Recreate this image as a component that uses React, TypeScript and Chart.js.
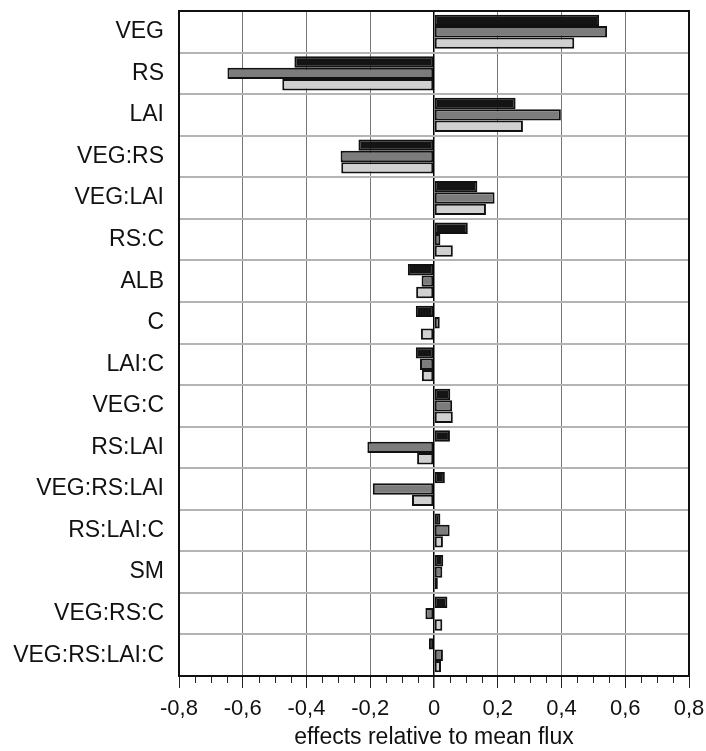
import React, { useEffect, useRef } from "react";
import { Chart, registerables } from "chart.js";

Chart.register(...registerables);

const categories = [
  "VEG", "RS", "LAI", "VEG:RS", "VEG:LAI", "RS:C", "ALB", "C", "LAI:C",
  "VEG:C", "RS:LAI", "VEG:RS:LAI", "RS:LAI:C", "SM", "VEG:RS:C", "VEG:RS:LAI:C",
];
const seriesBlack = [0.518, -0.438, 0.256, -0.237, 0.136, 0.106, -0.082, -0.057, -0.057, 0.051, 0.05, 0.034, 0.02, 0.029, 0.042, -0.016];
const seriesDark = [0.543, -0.648, 0.398, -0.293, 0.19, 0.02, -0.039, 0.018, -0.044, 0.057, -0.209, -0.192, 0.049, 0.026, -0.027, 0.028];
const seriesLight = [0.44, -0.476, 0.279, -0.291, 0.163, 0.059, -0.056, -0.041, -0.038, 0.059, -0.053, -0.069, 0.028, 0.012, 0.026, 0.022];
const xMin = -0.8;
const xMax = 0.8;
const xStep = 0.05;
const xTitle = "effects relative to mean flux";

const FONT = '"Liberation Sans", Arial, sans-serif';

const isMajor = (v: number) => Math.round(v * 100) % 20 === 0;

const framePlugin = {
  id: "frameAndMinor",
  afterDraw(chart: any) {
    const { ctx, chartArea } = chart;
    const xs = chart.scales.x;
    ctx.save();
    ctx.strokeStyle = "#222";
    ctx.lineWidth = 1;
    xs.ticks.forEach((t: any, i: number) => {
      if (isMajor(t.value)) return;
      const px = Math.round(xs.getPixelForTick(i)) + 0.5;
      ctx.beginPath();
      ctx.moveTo(px, chartArea.bottom);
      ctx.lineTo(px, chartArea.bottom + 7);
      ctx.stroke();
    });
    ctx.strokeStyle = "#111";
    ctx.lineWidth = 2;
    ctx.strokeRect(chartArea.left, chartArea.top, chartArea.right - chartArea.left, chartArea.bottom - chartArea.top);
    ctx.restore();
  },
};

export default function App() {
  const ref = useRef<HTMLCanvasElement | null>(null);
  useEffect(() => {
    if (!ref.current) return;
    const mk = (data: number[], color: string) => ({
      data,
      backgroundColor: color,
      borderColor: "#111",
      borderWidth: 2,
      borderSkipped: false,
      barPercentage: 1,
      categoryPercentage: 0.82,
    });
    const chart = new Chart(ref.current, {
      type: "bar",
      data: {
        labels: categories,
        datasets: [
          mk(seriesBlack, "#141414"),
          mk(seriesDark, "#7c7c7c"),
          mk(seriesLight, "#d0d0d0"),
        ],
      },
      options: {
        indexAxis: "y",
        responsive: false,
        animation: false,
        layout: { padding: { top: 11, right: 17, left: 0, bottom: 0 } },
        plugins: { legend: { display: false }, tooltip: { enabled: false } },
        scales: {
          x: {
            type: "linear",
            min: xMin,
            max: xMax,
            afterFit: (s: any) => {
              s.height = 75;
              s.paddingLeft = 0;
              s.paddingRight = 0;
            },
            ticks: {
              stepSize: xStep,
              autoSkip: false,
              maxRotation: 0,
              padding: 8,
              color: "#111",
              font: { family: FONT, size: 22 },
              callback: (v: any) => {
                const n = Number(v);
                if (!isMajor(n)) return "";
                const r = Math.round(n * 10) / 10;
                return r === 0 ? "0" : String(r).replace(".", ",");
              },
            },
            grid: {
              color: (c: any) => {
                const v = c.tick ? c.tick.value : 1;
                if (Math.abs(v) < 1e-9) return "#000";
                return isMajor(v) ? "#777" : "rgba(0,0,0,0)";
              },
              lineWidth: (c: any) => (c.tick && Math.abs(c.tick.value) < 1e-9 ? 1.5 : 1),
              tickColor: (c: any) => (c.tick && isMajor(c.tick.value) ? "#222" : "rgba(0,0,0,0)"),
              tickLength: 12,
            },
            border: { display: true, color: "#111", width: 2 },
            title: {
              display: true,
              text: xTitle,
              color: "#111",
              font: { family: FONT, size: 23 },
              padding: { top: 2, bottom: 0 },
            },
          },
          y: {
            type: "category",
            afterFit: (s: any) => {
              s.width = 179;
              s.paddingTop = 0;
              s.paddingBottom = 0;
            },
            ticks: {
              color: "#111",
              padding: 15,
              font: { family: FONT, size: 23 },
            },
            grid: {
              offset: true,
              color: "#b4b4b4",
              lineWidth: 2,
              drawTicks: false,
            },
            border: { display: true, color: "#111", width: 2 },
          },
        },
      },
      plugins: [framePlugin],
    } as any);
    return () => chart.destroy();
  }, []);
  return (
    <div style={{ position: "absolute", left: 0, top: 0, width: 706, height: 751, background: "#fff" }}>
      <canvas ref={ref} width={706} height={751} style={{ display: "block" }} />
    </div>
  );
}
